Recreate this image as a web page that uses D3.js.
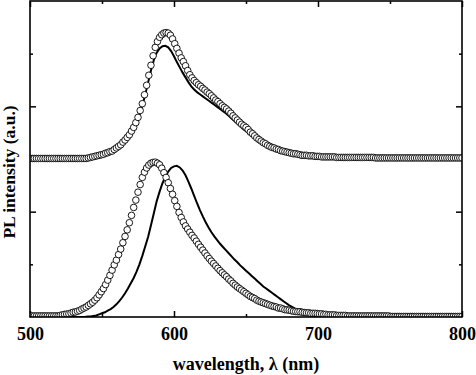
<!DOCTYPE html>
<html>
<head>
<meta charset="utf-8">
<script src="https://cdn.jsdelivr.net/npm/d3@7"></script>
<style>
  body { margin: 0; background: #fff; }
  text { font-family: "Liberation Serif", "Times New Roman", serif; font-weight: bold; }
</style>
</head>
<body>
<div id="chart"></div>
<script>
// wavelength grids, nm: circles every 1.5 nm, solid lines every 2 nm
var circleWavelengths = d3.range(500, 801, 1.5);
var lineWavelengths = d3.range(500, 801, 2);

// upper pair, offset by 3 units
var topCircles = [
  3.01,3.01,3.01,3.01,3.01,3.01,3.01,3.01,3.01,3.01,
  3.01,3.01,3.01,3.01,3.01,3.01,3.01,3.01,3.01,3.01,
  3.01,3.01,3.01,3.01,3.01,3.01,3.01,3.02,3.03,3.04,
  3.05,3.06,3.07,3.08,3.09,3.11,3.12,3.14,3.15,3.18,
  3.21,3.24,3.27,3.32,3.36,3.41,3.46,3.53,3.60,3.69,
  3.79,3.92,4.05,4.22,4.40,4.59,4.78,4.96,5.12,5.23,
  5.31,5.36,5.39,5.40,5.39,5.35,5.28,5.19,5.10,5.01,
  4.92,4.85,4.77,4.68,4.60,4.54,4.49,4.45,4.41,4.38,
  4.34,4.31,4.27,4.24,4.20,4.16,4.12,4.09,4.05,4.01,
  3.98,3.95,3.91,3.87,3.82,3.78,3.74,3.70,3.66,3.63,
  3.60,3.56,3.51,3.48,3.44,3.40,3.37,3.34,3.31,3.29,
  3.26,3.24,3.22,3.21,3.19,3.18,3.16,3.15,3.14,3.13,
  3.12,3.11,3.10,3.10,3.09,3.08,3.07,3.07,3.07,3.06,
  3.06,3.06,3.05,3.05,3.05,3.04,3.04,3.04,3.04,3.04,
  3.04,3.04,3.03,3.03,3.03,3.03,3.03,3.03,3.03,3.03,
  3.03,3.03,3.03,3.03,3.03,3.03,3.03,3.03,3.03,3.03,
  3.02,3.02,3.02,3.02,3.02,3.02,3.02,3.02,3.02,3.02,
  3.02,3.02,3.02,3.02,3.02,3.02,3.02,3.02,3.02,3.02,
  3.02,3.02,3.02,3.02,3.02,3.02,3.02,3.02,3.02,3.02,
  3.02,3.02,3.02,3.02,3.02,3.02,3.02,3.02,3.02,3.02,
  3.02
];
var topLine = [
  3.00,3.00,3.00,3.00,3.00,3.00,3.00,3.00,3.00,3.00,
  3.00,3.00,3.00,3.00,3.00,3.00,3.00,3.00,3.00,3.00,
  3.00,3.01,3.02,3.04,3.05,3.07,3.08,3.10,3.12,3.15,
  3.18,3.22,3.27,3.32,3.39,3.47,3.56,3.68,3.83,4.01,
  4.22,4.45,4.68,4.88,5.02,5.10,5.14,5.15,5.12,5.05,
  4.95,4.84,4.74,4.64,4.55,4.46,4.38,4.32,4.27,4.23,
  4.19,4.15,4.11,4.07,4.03,3.99,3.95,3.91,3.87,3.82,
  3.77,3.72,3.67,3.62,3.57,3.53,3.48,3.44,3.40,3.36,
  3.32,3.29,3.26,3.23,3.20,3.18,3.16,3.14,3.13,3.11,
  3.10,3.09,3.08,3.07,3.06,3.05,3.05,3.04,3.04,3.03,
  3.03,3.03,3.02,3.02,3.02,3.02,3.02,3.01,3.01,3.01,
  3.01,3.01,3.01,3.01,3.01,3.01,3.01,3.01,3.01,3.01,
  3.00,3.00,3.00,3.00,3.00,3.00,3.00,3.00,3.00,3.00,
  3.00,3.00,3.00,3.00,3.00,3.00,3.00,3.00,3.00,3.00,
  3.00,3.00,3.00,3.00,3.00,3.00,3.00,3.00,3.00,3.00,
  3.00
];

// lower pair
var bottomCircles = [
  0.02,0.02,0.02,0.02,0.02,0.02,0.02,0.02,0.02,0.02,
  0.02,0.02,0.02,0.02,0.03,0.04,0.05,0.055,0.06,0.075,
  0.09,0.095,0.11,0.125,0.15,0.17,0.19,0.22,0.25,0.28,
  0.32,0.365,0.42,0.48,0.54,0.615,0.70,0.79,0.89,0.99,
  1.08,1.185,1.29,1.41,1.53,1.655,1.79,1.93,2.08,2.22,
  2.37,2.515,2.65,2.75,2.83,2.885,2.92,2.935,2.94,2.92,
  2.89,2.825,2.74,2.65,2.55,2.44,2.33,2.21,2.10,1.985,
  1.89,1.805,1.73,1.67,1.61,1.55,1.50,1.44,1.38,1.325,
  1.27,1.215,1.16,1.11,1.06,1.015,0.97,0.925,0.88,0.84,
  0.80,0.765,0.72,0.685,0.64,0.605,0.57,0.54,0.51,0.48,
  0.45,0.42,0.39,0.37,0.35,0.32,0.30,0.285,0.27,0.255,
  0.24,0.225,0.21,0.20,0.19,0.17,0.17,0.155,0.14,0.135,
  0.13,0.12,0.11,0.105,0.10,0.10,0.09,0.085,0.08,0.08,
  0.07,0.07,0.07,0.065,0.06,0.06,0.05,0.05,0.04,0.04,
  0.04,0.04,0.03,0.03,0.03,0.03,0.03,0.02,0.02,0.02,
  0.02,0.02,0.02,0.02,0.02,0.02,0.02,0.02,0.02,0.02,
  0.02,0.02,0.02,0.02,0.02,0.02,0.02,0.01,0.01,0.01,
  0.01,0.01,0.01,0.01,0.01,0.01,0.01,0.01,0.01,0.01,
  0.01,0.01,0.01,0.01,0.01,0.01,0.01,0.01,0.01,0.01,
  0.01,0.01,0.01,0.01,0.01,0.01,0.01,0.01,0.01,0.01,
  0.01
];
var bottomLine = [
  0,0,0,0,0,0,0,0,0,0,
  0,0,0,0,0,0,0,0,0,0,
  0.01,0.01,0.02,0.03,0.05,0.07,0.09,0.12,0.15,0.19,
  0.24,0.30,0.37,0.45,0.54,0.64,0.74,0.86,1.00,1.16,
  1.34,1.52,1.74,1.97,2.20,2.38,2.54,2.66,2.76,2.83,
  2.86,2.87,2.84,2.78,2.69,2.57,2.44,2.30,2.16,2.03,
  1.91,1.80,1.70,1.61,1.53,1.46,1.39,1.33,1.27,1.21,
  1.15,1.09,1.04,0.98,0.93,0.88,0.83,0.78,0.73,0.68,
  0.63,0.58,0.54,0.50,0.46,0.42,0.38,0.34,0.30,0.26,
  0.22,0.19,0.16,0.14,0.12,0.10,0.08,0.07,0.05,0.04,
  0.03,0.02,0.02,0.01,0.01,0,0,0,0,0,
  0,0,0,0,0,0,0,0,0,0,
  0,0,0,0,0,0,0,0,0,0,
  0,0,0,0,0,0,0,0,0,0,
  0,0,0,0,0,0,0,0,0,0,
  0
];

var xMajor = [500, 600, 700, 800];
var xMinor = [550, 650, 750];
var yMajor = [2, 4];
var yMinor = [1, 3, 5];

var width = 476, height = 375;
var margin = {top: 1, right: 14, bottom: 58, left: 30};

var x = d3.scaleLinear().domain([500, 800]).range([margin.left, width - margin.right]);
var y = d3.scaleLinear().domain([0, 6]).range([height - margin.bottom, margin.top]);

var svg = d3.select("#chart").append("svg")
    .attr("width", width)
    .attr("height", height);

svg.append("clipPath").attr("id", "plot")
  .append("rect")
    .attr("x", x(500)).attr("y", y(6))
    .attr("width", x(800) - x(500)).attr("height", y(0) - y(6));

// ticks point inward on all four sides
function ticks(axis, g) {
  svg.append("g").attr("transform", g).call(axis)
    .call(function(s) { s.select(".domain").remove(); })
    .selectAll("line").attr("stroke-width", 1.5);
}
ticks(d3.axisBottom(x).tickValues(xMajor).tickSizeInner(-6).tickSizeOuter(0).tickPadding(10).tickFormat(d3.format("d")),
      "translate(0," + y(0) + ")");
ticks(d3.axisBottom(x).tickValues(xMinor).tickSize(-3).tickFormat(""), "translate(0," + y(0) + ")");
ticks(d3.axisTop(x).tickValues(xMajor).tickSize(-6).tickFormat(""), "translate(0," + y(6) + ")");
ticks(d3.axisTop(x).tickValues(xMinor).tickSize(-3).tickFormat(""), "translate(0," + y(6) + ")");
ticks(d3.axisLeft(y).tickValues(yMajor).tickSize(-6).tickFormat(""), "translate(" + x(500) + ",0)");
ticks(d3.axisLeft(y).tickValues(yMinor).tickSize(-3).tickFormat(""), "translate(" + x(500) + ",0)");
ticks(d3.axisRight(y).tickValues(yMajor).tickSize(-6).tickFormat(""), "translate(" + x(800) + ",0)");
ticks(d3.axisRight(y).tickValues(yMinor).tickSize(-3).tickFormat(""), "translate(" + x(800) + ",0)");

svg.selectAll(".tick text")
    .attr("font-size", 18)
    .attr("fill", "#000");

var line = d3.line()
    .x(function(d, i) { return x(lineWavelengths[i]); })
    .y(function(d) { return y(d); });

var plot = svg.append("g").attr("clip-path", "url(#plot)");

[bottomLine, topLine].forEach(function(s) {
  plot.append("path")
      .attr("d", line(s))
      .attr("fill", "none")
      .attr("stroke", "#000")
      .attr("stroke-width", 2);
});

[bottomCircles, topCircles].forEach(function(s) {
  plot.append("g").selectAll("circle")
      .data(s)
    .enter().append("circle")
      .attr("cx", function(d, i) { return x(circleWavelengths[i]); })
      .attr("cy", function(d) { return y(d); })
      .attr("r", 3.3)
      .attr("fill", "#fff")
      .attr("stroke", "#000")
      .attr("stroke-width", 0.9);
});

// frame
svg.append("rect")
    .attr("x", x(500)).attr("y", y(6))
    .attr("width", x(800) - x(500)).attr("height", y(0) - y(6))
    .attr("fill", "none")
    .attr("stroke", "#000")
    .attr("stroke-width", 1.6);

svg.append("text")
    .attr("x", (x(500) + x(800)) / 2)
    .attr("y", 370)
    .attr("text-anchor", "middle")
    .attr("font-size", 18)
    .text("wavelength, λ (nm)");

svg.append("text")
    .attr("transform", "translate(15," + 172 + ") rotate(-90)")
    .attr("text-anchor", "middle")
    .attr("font-size", 17.5)
    .text("PL intensity (a.u.)");
</script>
</body>
</html>
